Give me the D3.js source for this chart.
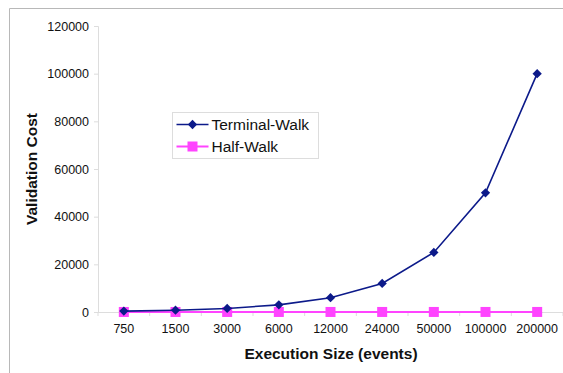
<!DOCTYPE html>
<meta charset="utf-8">
<style>
body { margin: 0; background: #fff; }
text { font-family: "Liberation Sans", Arial, sans-serif; }
.tick text { font-size: 12.5px; fill: #111; }
.axisTitle { font-size: 15.5px; font-weight: bold; fill: #111; }
.legendLabel { font-size: 15.5px; fill: #111; }
</style>
<body>
<script src="https://d3js.org/d3.v7.min.js"></script>
<script>
const sizes = ["750", "1500", "3000", "6000", "12000", "24000", "50000", "100000", "200000"];
const terminalWalk = [375, 750, 1500, 3000, 6000, 12000, 25000, 50000, 100000];
const halfWalk = [10, 12, 14, 15, 16, 17, 18, 19, 20];
const yTicks = [0, 20000, 40000, 60000, 80000, 100000, 120000];
const seriesNames = ["Terminal-Walk", "Half-Walk"];

const width = 563, height = 373;
const margin = {left: 98, right: 0, top: 26, bottom: 61};

const svg = d3.select("body").append("svg")
    .attr("width", width)
    .attr("height", height);

// outer frame (only top and left visible)
svg.append("path")
    .attr("d", "M9.5," + height + "V8.5H" + width)
    .attr("fill", "none")
    .attr("stroke", "#b8b8b8");

let x = d3.scaleBand()
    .domain(sizes)
    .range([margin.left, width - margin.right]);

let y = d3.scaleLinear()
    .domain([0, 120000])
    .range([height - margin.bottom, margin.top]);

// y axis
const yAxis = svg.append("g")
    .attr("transform", `translate(${margin.left},0)`)
    .call(d3.axisLeft(y).tickValues(yTicks).tickSize(4).tickPadding(5).tickFormat(d3.format("d")));
yAxis.selectAll("line, path").attr("stroke", "#ddd");
yAxis.selectAll("text").attr("font-size", null);

// x axis line + boundary ticks
const xAxis = svg.append("g")
    .attr("transform", `translate(0,${y(0)})`)
    .call(d3.axisBottom(x).tickSize(0).tickPadding(12));
xAxis.select(".domain").attr("stroke", "#ddd").attr("d", `M${margin.left - 4},0.5H${width}`);
xAxis.selectAll("text").attr("font-size", null);
xAxis.selectAll(".bound")
    .data(d3.range(sizes.length + 1))
    .join("line")
        .attr("x1", i => x.range()[0] + i * x.step())
        .attr("x2", i => x.range()[0] + i * x.step())
        .attr("y1", 0)
        .attr("y2", 4)
        .attr("stroke", "#ddd");

// titles
svg.append("text")
    .attr("class", "axisTitle")
    .attr("transform", `translate(37,${(y(0) + y(120000)) / 2}) rotate(-90)`)
    .attr("text-anchor", "middle")
    .text("Validation Cost");

svg.append("text")
    .attr("class", "axisTitle")
    .attr("x", 331)
    .attr("y", 359)
    .attr("text-anchor", "middle")
    .text("Execution Size (events)");

const cx = d => x(d) + x.bandwidth() / 2;
const line = d3.line().x((d, i) => cx(sizes[i])).y(d => y(d));

// Half-Walk
svg.append("path")
    .datum(halfWalk)
    .attr("d", line)
    .attr("fill", "none")
    .attr("stroke", "#ff44ff")
    .attr("stroke-width", 2);
svg.append("g").selectAll("rect")
    .data(halfWalk)
    .join("rect")
        .attr("x", (d, i) => cx(sizes[i]) - 5)
        .attr("y", d => y(d) - 5)
        .attr("width", 10)
        .attr("height", 10)
        .attr("fill", "#ff44ff");

// Terminal-Walk
const diamond = d3.symbol().type(d3.symbolDiamond2).size(55);
svg.append("path")
    .datum(terminalWalk)
    .attr("d", line)
    .attr("fill", "none")
    .attr("stroke", "#0c1a8a")
    .attr("stroke-width", 1.6);
svg.append("g").selectAll("path")
    .data(terminalWalk)
    .join("path")
        .attr("transform", (d, i) => `translate(${cx(sizes[i])},${y(d)})`)
        .attr("d", diamond)
        .attr("fill", "#0c1a8a");

// legend
const legend = svg.append("g").attr("transform", "translate(172.5,112.5)");
legend.append("rect")
    .attr("width", 146)
    .attr("height", 46)
    .attr("fill", "#fff")
    .attr("stroke", "#ddd");
const lg = legend.selectAll("g")
    .data(seriesNames)
    .join("g")
        .attr("transform", (d, i) => `translate(0,${12 + i * 22})`);
lg.append("line")
    .attr("x1", 4).attr("x2", 36)
    .attr("stroke", (d, i) => i ? "#ff44ff" : "#0c1a8a")
    .attr("stroke-width", (d, i) => i ? 2 : 1.6);
lg.filter((d, i) => i === 0).append("path")
    .attr("transform", "translate(20,0)")
    .attr("d", diamond)
    .attr("fill", "#0c1a8a");
lg.filter((d, i) => i === 1).append("rect")
    .attr("x", 15).attr("y", -5).attr("width", 10).attr("height", 10)
    .attr("fill", "#ff44ff");
lg.append("text")
    .attr("class", "legendLabel")
    .attr("x", 39)
    .attr("dy", "0.36em")
    .text(d => d);
</script>
</body>
